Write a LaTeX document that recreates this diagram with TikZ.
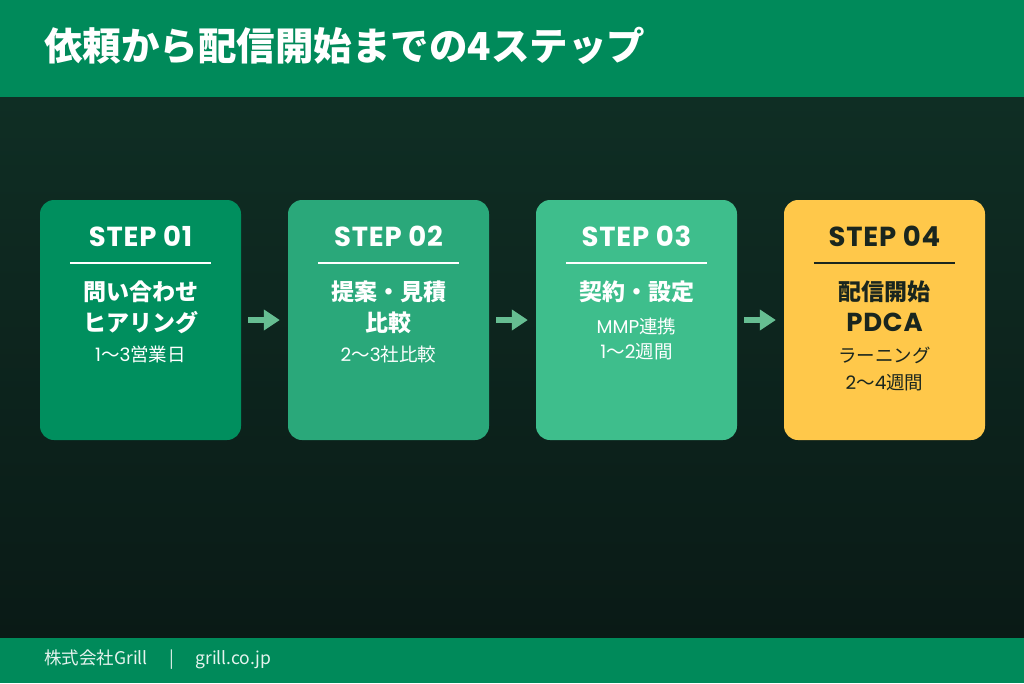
\documentclass[tikz,border=0pt]{standalone}
\usepackage{fontspec}
\setmainfont{Noto Sans CJK JP}[BoldFont={Noto Sans CJK JP Bold}]
\newfontfamily\heavyfont{Noto Sans CJK JP Black}
\newfontfamily\latinfont{Poppins}
\newfontfamily\labelfont{Poppins}[LetterSpace=3]
\usetikzlibrary{arrows.meta, positioning, calc}
\definecolor{grillgreen}{RGB}{0, 138, 90}
\definecolor{bgtop}{RGB}{15, 46, 36}
\definecolor{bgbot}{RGB}{10, 26, 22}
\definecolor{stepA}{RGB}{0, 143, 94}
\definecolor{stepB}{RGB}{42, 168, 122}
\definecolor{stepC}{RGB}{62, 190, 140}
\definecolor{stepD}{RGB}{255, 200, 74}
\definecolor{darktext}{RGB}{26, 38, 30}
\definecolor{arrowgreen}{RGB}{102, 190, 146}
\newcommand\lt[1]{{\latinfont #1}}

\begin{document}
\begin{tikzpicture}[x=1pt, y=-1pt,
    stepbox/.style={rounded corners=14pt, minimum width=201pt, minimum height=240pt, inner sep=0pt},
    steplabel/.style={font=\fontsize{27.5}{28}\selectfont\labelfont\bfseries, inner sep=0pt},
    steptitle/.style={font=\fontsize{23}{31}\selectfont\heavyfont, align=center, anchor=north, inner sep=0pt},
    stepnote/.style={font=\fontsize{18.5}{26}\selectfont, align=center, anchor=north, inner sep=0pt},
    flowarrow/.style={arrowgreen, line width=6pt, -{Triangle[length=16pt, width=20pt]}, shorten <=7pt, shorten >=8pt}]
    \useasboundingbox (0,0) rectangle (1024,683);

    % Background, header and footer bands
    \fill[top color=bgtop, bottom color=bgbot] (0,97) rectangle (1024,638);
    \fill[grillgreen] (0,0) rectangle (1024,97);
    \fill[grillgreen] (0,638) rectangle (1024,683);
    \node[anchor=west, text=white, font=\fontsize{38.5}{40}\selectfont\heavyfont, inner sep=0pt] (title) at (44,46) {依頼から配信開始までの4ステップ};
    \node[anchor=west, text=white!90!grillgreen, font=\fontsize{17.5}{18}\selectfont, inner sep=0pt] (footer) at (44,660) {株式会社Grill\quad\ |\ \quad grill.co.jp};

    % Step boxes
    \foreach \i/\x/\c/\t in {1/40/stepA/white, 2/288/stepB/white, 3/536/stepC/white, 4/784/stepD/darktext} {
        \node[stepbox, fill=\c] (box\i) at (\x+100.5,320) {};
        \node[steplabel, text=\t] (lab\i) at ($(box\i.north)+(0,37)$) {STEP 0\i};
        \draw[\t, line width=2pt] ($(box\i.north west)+(30,63)$) -- ($(box\i.north east)+(-30,63)$);
    }

    % Box texts
    \node[steptitle, text=white] (name1) at ($(box1.north)+(0,80.5)$) {問い合わせ\\ヒアリング};
    \node[stepnote, text=white] (note1) at ($(box1.north)+(0,146)$) {\lt{1}〜\lt{3}営業日};
    \node[steptitle, text=white] (name2) at ($(box2.north)+(0,80.5)$) {提案・見積\\比較};
    \node[stepnote, text=white] (note2) at ($(box2.north)+(0,146)$) {\lt{2}〜\lt{3}社比較};
    \node[steptitle, text=white] (name3) at ($(box3.north)+(0,80.5)$) {契約・設定};
    \node[stepnote, text=white, font=\fontsize{18.5}{25}\selectfont] (note3) at ($(box3.north)+(0,118)$) {\lt{MMP}連携\\\lt{1}〜\lt{2}週間};
    \node[steptitle, text=darktext] (name4) at ($(box4.north)+(0,80.5)$) {配信開始\\{\fontsize{26}{31}\selectfont\labelfont\bfseries PDCA}};
    \node[stepnote, text=darktext, font=\fontsize{18.5}{27}\selectfont] (note4) at ($(box4.north)+(0,147)$) {ラーニング\\\lt{2}〜\lt{4}週間};

    % Arrows
    \foreach \a/\b in {1/2, 2/3, 3/4}
        \draw[flowarrow] (box\a) -- (box\b);
\end{tikzpicture}
\end{document}
